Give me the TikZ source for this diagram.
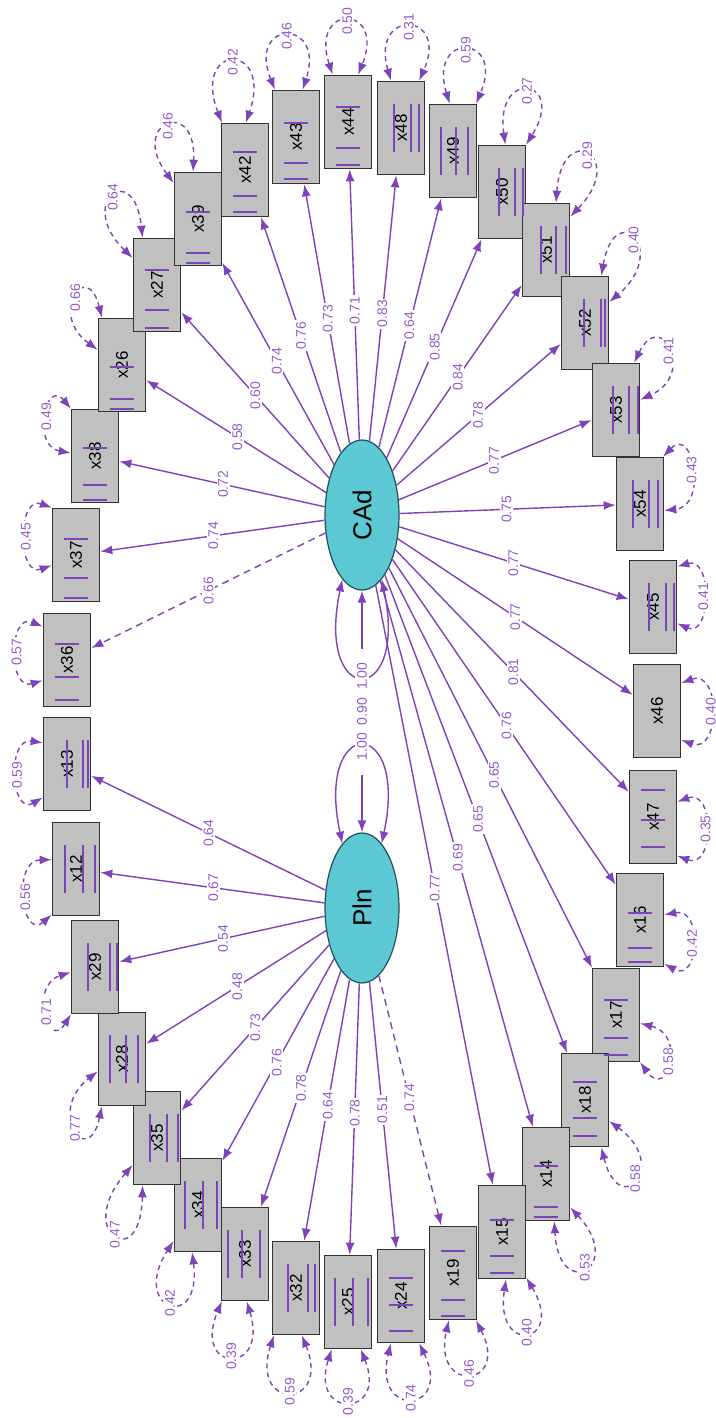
\documentclass[tikz,border=0pt]{standalone}
\usepackage{fontspec}
\setmainfont{Liberation Sans}
\usetikzlibrary{arrows.meta,calc,shapes.geometric}

\definecolor{amos}{RGB}{128,66,184}
\definecolor{amoslab}{RGB}{150,92,200}
\definecolor{boxgray}{RGB}{192,192,192}
\definecolor{boxedge}{RGB}{50,50,50}
\definecolor{latent}{RGB}{92,200,212}
\definecolor{latentedge}{RGB}{30,80,90}

\tikzset{
  obs/.style={draw=boxedge, line width=0.8pt, fill=boxgray,
    minimum width=23.5pt, minimum height=46.5pt, inner sep=0pt,
    font=\fontsize{8.5}{8.5}\selectfont},
  lat/.style={ellipse, draw=latentedge, line width=0.6pt, fill=latent,
    minimum width=37pt, minimum height=75pt, inner sep=0pt,
    font=\fontsize{13}{13}\selectfont},
  loadline/.style={draw=amos, line width=0.7pt, -{Latex[length=6pt,width=4.5pt]}},
  fixedline/.style={loadline, dash pattern=on 3.5pt off 2.5pt},
  resid/.style={draw=amos, line width=0.7pt, dash pattern=on 2.5pt off 2pt,
    {Latex[length=6pt,width=4.5pt]}-{Latex[length=6pt,width=4.5pt]}},
  lvar/.style={draw=amos, line width=0.7pt,
    {Latex[length=6pt,width=4.5pt]}-{Latex[length=6pt,width=4.5pt]}},
  vlab/.style={fill=white, text=amoslab, rotate=90, inner sep=0.8pt,
    font=\fontsize{7}{7}\selectfont},
  bar/.style={draw=amos, line width=0.7pt},
}

% observed indicator box with vertical caption
\newcommand\obsbox[3]{\node[obs] (#1) at (#2,#3) {\rotatebox{90}{#1}};}
% factor loading: arrow from latent to box, value on the line
\newcommand\coef[4][loadline]{%
  \draw[#1] (#2) -- (#3);
  \node[vlab] at ($(#2)!0.52!(#3)$) {#4};}
% residual variance: dashed double-headed loop on the outer side of a box
\newcommand\errloop[7]{%
  \draw[resid] (#1.#2) to[out=#4,in=#5,distance=#6pt] node[vlab]{#7} (#1.#3);}
% stray marks inside the boxes
\newcommand\hbars[4]{\foreach \o in {#2,#3,#4}{\draw[bar] ($(#1)+(-12,\o)$) -- ++(24,0);}}
\newcommand\vbars[4]{\foreach \o in {#2,#3,#4}{\draw[bar] ($(#1)+(\o,-24)$) -- ++(0,48);}}

\begin{document}
\begin{tikzpicture}[x=0.5pt,y=-0.5pt]
\useasboundingbox (0,0) rectangle (716,1418);

% latent factors
\node[lat] (CAd) at (362,515) {\rotatebox{90}{CAd}};
\node[lat] (Pln) at (362,908) {\rotatebox{90}{Pln}};

% indicators, clockwise from the top
\obsbox{x44}{348}{122}
\obsbox{x48}{401}{128}
\obsbox{x49}{453}{151}
\obsbox{x50}{502}{192}
\obsbox{x51}{546}{250}
\obsbox{x52}{585}{323}
\obsbox{x53}{616}{410}
\obsbox{x54}{640}{504}
\obsbox{x45}{653}{607}
\obsbox{x46}{657}{711}
\obsbox{x47}{653}{817}
\obsbox{x16}{640}{920}
\obsbox{x17}{616}{1015}
\obsbox{x18}{585}{1100}
\obsbox{x14}{546}{1174}
\obsbox{x15}{502}{1232}
\obsbox{x19}{453}{1273}
\obsbox{x24}{401}{1296}
\obsbox{x25}{348}{1302}
\obsbox{x32}{296}{1288}
\obsbox{x33}{245}{1254}
\obsbox{x34}{198}{1205}
\obsbox{x35}{157}{1138}
\obsbox{x28}{122}{1059}
\obsbox{x29}{95}{967}
\obsbox{x12}{76}{869}
\obsbox{x13}{67}{764}
\obsbox{x36}{67}{660}
\obsbox{x37}{76}{555}
\obsbox{x38}{95}{456}
\obsbox{x26}{122}{365}
\obsbox{x27}{157}{285}
\obsbox{x39}{198}{219}
\obsbox{x42}{245}{170}
\obsbox{x43}{296}{137}

% marks inside the boxes
\hbars{x44}{-15}{26}{43}
\hbars{x43}{-14}{26}{42}
\hbars{x42}{-18}{26}{42}
\hbars{x39}{-7}{34}{44}
\hbars{x27}{-15}{25}{43}
\hbars{x26}{2}{34}{44}
\hbars{x38}{-8}{29}{44}
\hbars{x37}{-16}{23}{43}
\hbars{x36}{-16}{17}{40}
\vbars{x13}{0}{16}{21}
\vbars{x12}{-11}{7}{19}
\vbars{x29}{-7}{15}{22}
\vbars{x28}{-12}{4}{16}
\vbars{x35}{-7}{10}{21}
\vbars{x34}{-13}{5}{19}
\vbars{x33}{-17}{-3}{15}
\vbars{x32}{-8}{12}{19}
\vbars{x25}{-13}{5}{20}
\hbars{x24}{-18}{9}{35}
\hbars{x19}{-22}{27}{43}
\hbars{x15}{-12}{24}{41}
\hbars{x14}{-8}{33}{43}
\hbars{x18}{-18}{18}{36}
\hbars{x17}{-15}{23}{40}
\hbars{x16}{-7}{28}{42}
\hbars{x47}{-27}{3}{30}
\vbars{x45}{-4}{13}{21}
\vbars{x54}{-7}{9}{18}
\vbars{x53}{-3}{13}{22}
\vbars{x52}{-1}{16}{20}
\vbars{x51}{-5}{10}{20}
\vbars{x50}{-3}{13}{21}
\vbars{x49}{-12}{3}{15}
\vbars{x48}{-7}{10}{18}

% loadings of CAd
\coef[fixedline]{CAd}{x36}{0.66}
\coef{CAd}{x37}{0.74}
\coef{CAd}{x38}{0.72}
\coef{CAd}{x26}{0.58}
\coef{CAd}{x27}{0.60}
\coef{CAd}{x39}{0.74}
\coef{CAd}{x42}{0.76}
\coef{CAd}{x43}{0.73}
\coef{CAd}{x44}{0.71}
\coef{CAd}{x48}{0.83}
\coef{CAd}{x49}{0.64}
\coef{CAd}{x50}{0.85}
\coef{CAd}{x51}{0.84}
\coef{CAd}{x52}{0.78}
\coef{CAd}{x53}{0.77}
\coef{CAd}{x54}{0.75}
\coef{CAd}{x45}{0.77}
\coef{CAd}{x46}{0.77}
\coef{CAd}{x47}{0.81}
\coef{CAd}{x16}{0.76}
\coef{CAd}{x17}{0.65}
\coef{CAd}{x18}{0.65}
\coef{CAd}{x14}{0.69}
\coef{CAd}{x15}{0.77}

% loadings of Pln
\coef{Pln}{x13}{0.64}
\coef{Pln}{x12}{0.67}
\coef{Pln}{x29}{0.54}
\coef{Pln}{x28}{0.48}
\coef{Pln}{x35}{0.73}
\coef{Pln}{x34}{0.76}
\coef{Pln}{x33}{0.78}
\coef{Pln}{x32}{0.64}
\coef{Pln}{x25}{0.78}
\coef{Pln}{x24}{0.51}
\coef[fixedline]{Pln}{x19}{0.74}

% factor covariance and variances
\draw[lvar] (CAd) -- (Pln);
\node[vlab, minimum width=63pt] at ($(CAd)!0.5!(Pln)$) {0.90};
\draw[lvar] (CAd.287) to[out=282,in=258,distance=66pt] node[vlab]{1.00} (CAd.253);
\draw[lvar] (Pln.107) to[out=102,in=78,distance=66pt] node[vlab]{1.00} (Pln.73);

% residual variances
\errloop{x44}{108}{78}{108}{68}{38}{0.50}
\errloop{x43}{114}{82}{112}{72}{38}{0.46}
\errloop{x42}{116}{89}{111}{71}{43}{0.42}
\errloop{x39}{124}{96}{127}{87}{38}{0.46}
\errloop{x27}{132}{107}{136}{96}{40}{0.64}
\errloop{x26}{148}{113}{144}{104}{31}{0.66}
\errloop{x38}{173}{117}{170}{130}{20}{0.49}
\errloop{x37}{203}{117}{200}{160}{18.5}{0.45}
\errloop{x36}{220}{126}{197}{157}{18.5}{0.57}
\errloop{x13}{234}{139}{211}{171}{18.5}{0.59}
\errloop{x12}{242}{159}{221}{181}{20}{0.56}
\errloop{x29}{243}{192}{238}{198}{22}{0.71}
\errloop{x28}{247}{207}{258}{218}{33}{0.77}
\errloop{x35}{253}{228}{269}{229}{45}{0.47}
\errloop{x34}{263}{236}{277}{237}{41}{0.42}
\errloop{x33}{272}{244}{287}{247}{39}{0.39}
\errloop{x32}{277}{245}{292}{252}{40}{0.59}
\errloop{x25}{285}{251}{292}{252}{37}{0.39}
\errloop{x24}{291}{258}{296}{256}{39}{0.74}
\errloop{x19}{296}{265}{297}{257}{38}{0.46}
\errloop{x15}{298}{275}{301}{261}{39}{0.40}
\errloop{x14}{306}{280}{313}{273}{41}{0.53}
\errloop{x18}{319}{289}{324}{284}{38}{0.58}
\errloop{x17}{341}{297}{346}{306}{24}{0.58}
\errloop{x16}{12}{299}{11}{331}{20}{0.42}
\errloop{x47}{32}{302}{20}{340}{20}{0.35}
\errloop{x46}{49}{310}{20}{340}{21}{0.40}
\errloop{x45}{59}{326}{16}{336}{18.5}{0.41}
\errloop{x54}{64}{345}{46}{6}{22}{0.43}
\errloop{x53}{69}{23}{64}{24}{31}{0.41}
\errloop{x52}{71}{41}{80}{40}{40}{0.40}
\errloop{x51}{78}{54}{86}{46}{42}{0.29}
\errloop{x50}{86}{63}{98}{58}{39}{0.27}
\errloop{x49}{94}{64}{107}{67}{38}{0.59}
\errloop{x48}{102}{69}{106}{66}{38}{0.31}
\end{tikzpicture}
\end{document}
